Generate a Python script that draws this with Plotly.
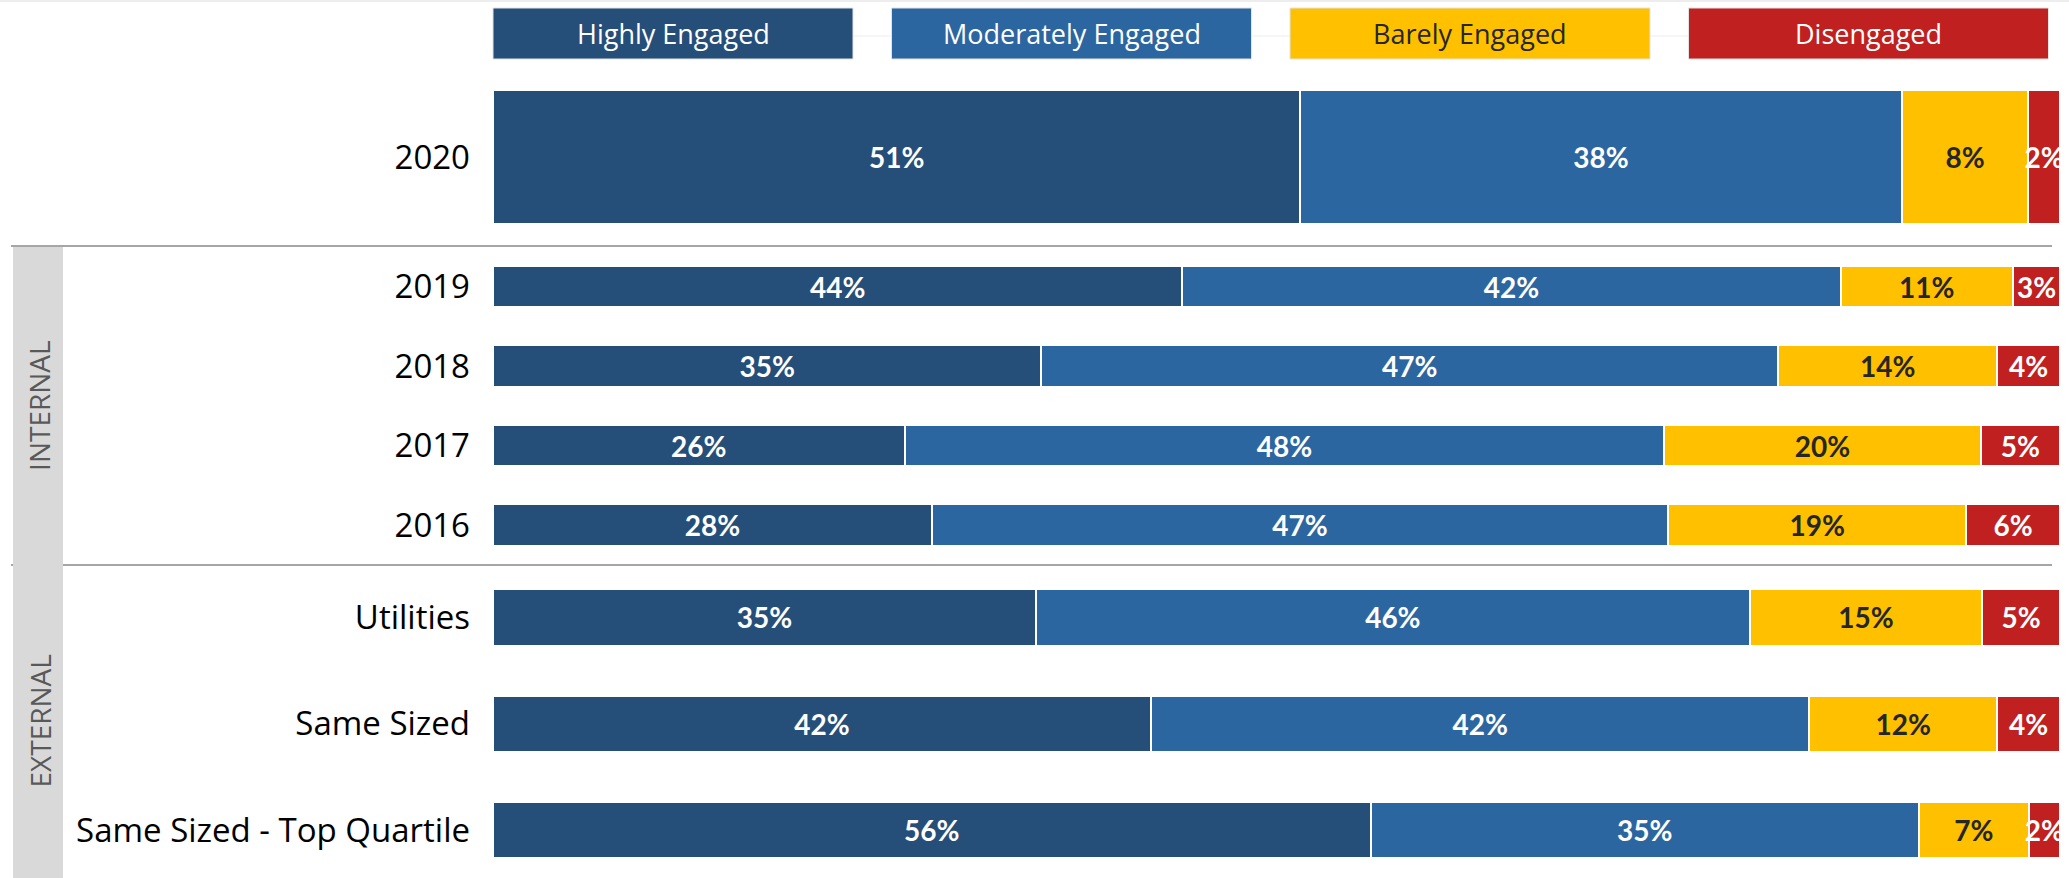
import plotly.graph_objects as go

# ---- data -------------------------------------------------------------
rows = ["2020", "2019", "2018", "2017", "2016",
        "Utilities", "Same Sized", "Same Sized - Top Quartile"]
row_section = [0, 1, 1, 1, 1, 2, 2, 2]
section_names = ["", "INTERNAL", "EXTERNAL"]

series_names = ["Highly Engaged", "Moderately Engaged", "Barely Engaged", "Disengaged"]
highly_engaged = [51, 44, 35, 26, 28, 35, 42, 56]
moderately_engaged = [38, 42, 47, 48, 47, 46, 42, 35]
barely_engaged = [8, 11, 14, 20, 19, 15, 12, 7]
disengaged = [2, 3, 4, 5, 6, 5, 4, 2]

# ---- styling ------------------------------------------------------------
series_values = [highly_engaged, moderately_engaged, barely_engaged, disengaged]
fill_colors = ["#254E79", "#2C66A0", "#FFC000", "#C0201F"]
text_colors = ["#FFFFFF", "#FFFFFF", "#262626", "#FFFFFF"]
BAR_FONT = "Lato"
LABEL_FONT = "Open Sans"

W, H = 2069, 878
ML, MR = 493, 9
PW = W - ML - MR


def px_x(px):
    return (px - ML) / PW


def px_y(py):
    return 1 - py / H


# per-section pixel layout: (domain top, domain bottom, axis range, bar width)
section_geom = [
    dict(top=68, bottom=246, rng=[0.5, -0.5], width=0.753),
    dict(top=246.75, bottom=564.75, rng=[3.5, -0.5], width=0.522),
    dict(top=565, bottom=878, rng=[2.452, -0.494], width=0.53),
]

fig = go.Figure()

for si, geom in enumerate(section_geom):
    idx = [i for i, s in enumerate(row_section) if s == si]
    cats = [rows[i] for i in idx]
    suffix = "" if si == 0 else str(si + 1)
    for k, name in enumerate(series_names):
        vals = [series_values[k][i] for i in idx]
        fig.add_trace(go.Bar(
            y=cats, x=vals, orientation="h", name=name,
            xaxis="x" + suffix, yaxis="y" + suffix,
            width=geom["width"],
            marker=dict(color=fill_colors[k], line=dict(color="white", width=2)),
            text=[f"{v}%" for v in vals],
            textposition="inside", insidetextanchor="middle", textangle=0,
            textfont=dict(family=BAR_FONT, size=28, color=text_colors[k], weight="bold"),
            showlegend=False, hoverinfo="skip",
        ))
    dom = [px_y(geom["bottom"]), px_y(geom["top"])]
    ax_y = dict(domain=dom, range=geom["rng"], type="category",
                showgrid=False, zeroline=False, showline=False, ticks="",
                ticklabelstandoff=22,
                tickfont=dict(family=LABEL_FONT, size=33, color="#000000"),
                anchor="x" + suffix, fixedrange=True)
    ax_x = dict(domain=[0, 1], range=[0, 100], visible=False,
                anchor="y" + suffix, fixedrange=True)
    fig.layout["yaxis" + suffix] = ax_y
    fig.layout["xaxis" + suffix] = ax_x

shapes = []
annotations = []

# faint rule along the top edge and connector line behind the legend boxes
shapes.append(dict(type="line", xref="paper", yref="paper",
                   x0=px_x(0), x1=px_x(W), y0=px_y(1), y1=px_y(1),
                   line=dict(color="#EDEDED", width=2), layer="below"))
shapes.append(dict(type="line", xref="paper", yref="paper",
                   x0=px_x(493), x1=px_x(2049), y0=px_y(36), y1=px_y(36),
                   line=dict(color="#EEEEEE", width=1), layer="below"))

# legend boxes
box_w, box_step = 360, 398.5
for k, name in enumerate(series_names):
    x0 = 493 + k * box_step
    shapes.append(dict(type="rect", xref="paper", yref="paper",
                       x0=px_x(x0), x1=px_x(x0 + box_w), y0=px_y(59), y1=px_y(8),
                       fillcolor=fill_colors[k], line=dict(color="#E3E3E3", width=1),
                       layer="above"))
    annotations.append(dict(xref="paper", yref="paper",
                            x=px_x(x0 + box_w / 2), y=px_y(34), text=name,
                            showarrow=False, xanchor="center", yanchor="middle",
                            font=dict(family=LABEL_FONT, size=27, color=text_colors[k])))

# section separator lines
for py in (246, 565):
    shapes.append(dict(type="line", xref="paper", yref="paper",
                       x0=px_x(11), x1=px_x(2052), y0=px_y(py), y1=px_y(py),
                       line=dict(color="#A6A6A6", width=2), layer="above"))

# grey side strip with section names
shapes.append(dict(type="rect", xref="paper", yref="paper",
                   x0=px_x(13), x1=px_x(63), y0=px_y(878), y1=px_y(247),
                   fillcolor="#D9D9D9", line=dict(width=0), layer="above"))
for si in (1, 2):
    geom = section_geom[si]
    mid = (max(geom["top"], 247) + geom["bottom"]) / 2
    annotations.append(dict(xref="paper", yref="paper",
                            x=px_x(39), y=px_y(mid), text=section_names[si],
                            showarrow=False, textangle=-90,
                            xanchor="center", yanchor="middle",
                            font=dict(family=LABEL_FONT, size=28, color="#595959")))

fig.update_layout(
    width=W, height=H,
    margin=dict(l=ML, r=MR, t=0, b=0, pad=0),
    barmode="stack", barnorm="percent",
    paper_bgcolor="white", plot_bgcolor="white",
    uniformtext=dict(mode="show", minsize=28),
    shapes=shapes, annotations=annotations,
    font=dict(family=LABEL_FONT),
)

fig.write_html("out.html", config={"displayModeBar": False})
